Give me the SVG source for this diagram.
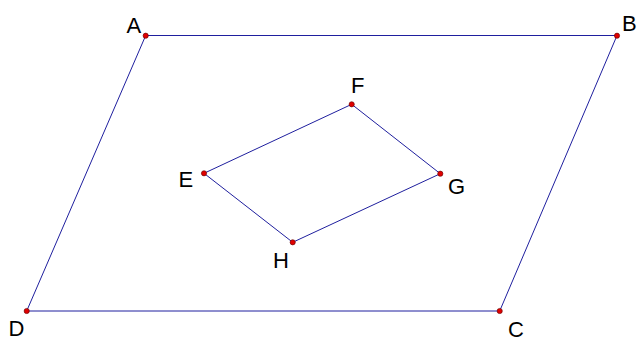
<svg xmlns="http://www.w3.org/2000/svg" width="644" height="340" viewBox="0 0 644 340">
<style>
.edge{fill:none;stroke:#1f1f9e;stroke-width:1}
.pt{fill:#e00000;stroke:#600000;stroke-width:0.6}
.lbl{font-family:"Liberation Sans",Arial,sans-serif;font-size:22px;fill:#000}
</style>
<rect width="644" height="340" fill="#fff"/>
<g id="connectors">
<path class="edge" d="M145.7 35.5 L617 35.5 L499.7 311 L26.7 311 Z"/>
<path class="edge" d="M351.7 104.3 L440.3 173.7 L292.7 242.3 L204 173.3 Z"/>
</g>
<g id="A"><circle class="pt" cx="145.7" cy="35.7" r="2.6"/><text class="lbl" x="126.5" y="33">A</text></g>
<g id="B"><circle class="pt" cx="617" cy="35.7" r="2.6"/><text class="lbl" x="622" y="30.5">B</text></g>
<g id="C"><circle class="pt" cx="499.7" cy="311" r="2.6"/><text class="lbl" x="508" y="336.5">C</text></g>
<g id="D"><circle class="pt" cx="26.7" cy="311" r="2.6"/><text class="lbl" x="8.5" y="336">D</text></g>
<g id="E"><circle class="pt" cx="204" cy="173.3" r="2.6"/><text class="lbl" x="178.5" y="187.3">E</text></g>
<g id="F"><circle class="pt" cx="351.7" cy="104.3" r="2.6"/><text class="lbl" x="351" y="93.3">F</text></g>
<g id="G"><circle class="pt" cx="440.3" cy="173.7" r="2.6"/><text class="lbl" x="448" y="194">G</text></g>
<g id="H"><circle class="pt" cx="292.7" cy="242.3" r="2.6"/><text class="lbl" x="273" y="268.3">H</text></g>
</svg>
